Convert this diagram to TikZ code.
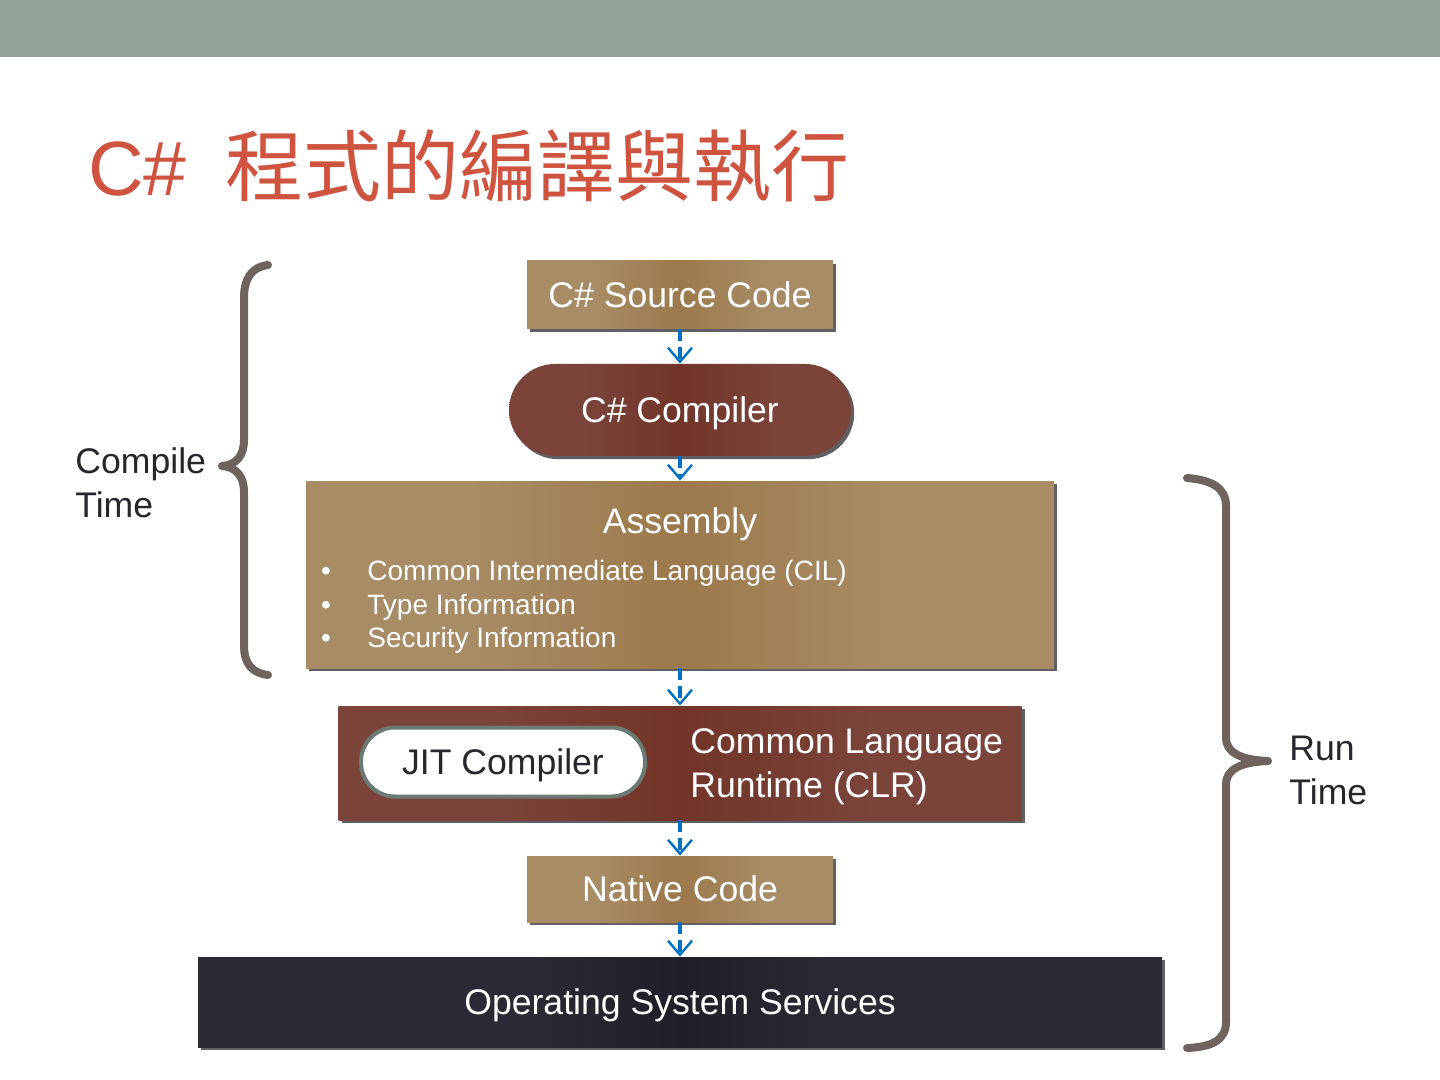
\documentclass[tikz,border=0pt]{standalone}
\usepackage{fontspec}
\setmainfont{Liberation Sans}
\newfontfamily\cjk{Noto Sans CJK TC}
\usetikzlibrary{arrows.meta,shadows}
\definecolor{barcol}{RGB}{147,162,153}
\definecolor{titlecol}{RGB}{207,84,63}
\definecolor{tanA}{RGB}{168,140,101}
\definecolor{tanB}{RGB}{156,121,76}
\definecolor{brnA}{RGB}{122,68,58}
\definecolor{brnB}{RGB}{114,52,40}
\definecolor{osA}{RGB}{41,42,53}
\definecolor{osB}{RGB}{31,31,41}
\definecolor{bracecol}{RGB}{112,99,93}
\definecolor{arrowblue}{RGB}{0,112,192}
\definecolor{labelcol}{RGB}{38,38,45}
\definecolor{jitborder}{RGB}{108,122,116}
\definecolor{shadowcol}{RGB}{95,95,100}
\pgfdeclarehorizontalshading{tanband}{100bp}{color(0bp)=(tanA); color(36bp)=(tanA); color(50bp)=(tanB); color(64bp)=(tanA); color(100bp)=(tanA)}
\pgfdeclarehorizontalshading{brnband}{100bp}{color(0bp)=(brnA); color(36bp)=(brnA); color(50bp)=(brnB); color(64bp)=(brnA); color(100bp)=(brnA)}
\pgfdeclarehorizontalshading{osband}{100bp}{color(0bp)=(osA); color(42bp)=(osA); color(50bp)=(osB); color(58bp)=(osA); color(100bp)=(osA)}
\begin{document}
\begin{tikzpicture}[x=0.5pt,y=-0.5pt,
  bigfont/.style={font=\fontsize{17.8}{22}\selectfont},
  smallfont/.style={font=\fontsize{14}{17}\selectfont},
  captext/.style={text height=12.75pt, text depth=0pt},
  boxbase/.style={inner sep=0pt, draw=none, bigfont, text=white, captext,
    drop shadow={shadow xshift=1.6pt, shadow yshift=-1.6pt, fill=shadowcol, opacity=1}},
  tanbox/.style={boxbase, shading=tanband},
  brnbox/.style={boxbase, shading=brnband},
  osbox/.style={boxbase, shading=osband},
  jitbox/.style={inner sep=0pt, rounded corners=17pt, fill=white, draw=jitborder,
    line width=2pt, bigfont, text=labelcol, captext},
  wtext/.style={inner sep=0pt, text=white},
  sidelabel/.style={inner sep=0pt, bigfont, text=labelcol, align=left, anchor=west},
  flow/.style={draw=arrowblue, line width=1.7pt, dash pattern=on 6pt off 3pt,
    -{Straight Barb[length=7pt,width=12pt,line width=1.2pt]}},
  brace/.style={draw=bracecol, line width=4pt, line cap=round, line join=round}
]
\useasboundingbox (0,0) rectangle (1440,1080);
\fill[white] (0,0) rectangle (1440,1080);
\fill[barcol] (0,0) rectangle (1440,57);

% title
\node[inner sep=0pt, anchor=base west, text=titlecol, font=\fontsize{38.5}{44}\selectfont] (tc) at (88,196) {C\#};
\node[inner sep=0pt, anchor=base west, text=titlecol, font=\cjk\fontsize{39}{44}\selectfont] (tz) at (225,196) {程式的編譯與執行};

% boxes
\node[tanbox, minimum width=153pt, minimum height=34pt] (src) at (680,295) {C\# Source Code};
\node[brnbox, rounded corners=23pt, minimum width=171pt, minimum height=46pt] (comp) at (680,410) {C\# Compiler};
\node[tanbox, minimum width=374pt, minimum height=93.5pt] (asm) at (680,574.5) {};
\node[wtext, bigfont, anchor=base] (asmt) at (680,533) {Assembly};
\node[wtext, smallfont, anchor=base] (b1) at (326,580) {•};
\node[wtext, smallfont, anchor=base] (b2) at (326,614) {•};
\node[wtext, smallfont, anchor=base] (b3) at (326,647) {•};
\node[wtext, smallfont, anchor=base west] (l1) at (367,580) {Common Intermediate Language (CIL)};
\node[wtext, smallfont, anchor=base west] (l2) at (367,614) {Type Information};
\node[wtext, smallfont, anchor=base west] (l3) at (367,647) {Security Information};

\node[brnbox, minimum width=341.5pt, minimum height=57pt] (clr) at (680,763) {};
\node[jitbox, minimum width=142pt, minimum height=34.5pt] (jit) at (503,762) {JIT Compiler};
\node[wtext, bigfont, align=left, anchor=west] (clrt) at (690,767) {Common Language\\Runtime (CLR)};

\node[tanbox, minimum width=153pt, minimum height=33pt] (nat) at (680,889) {Native Code};
\node[osbox, minimum width=482pt, minimum height=45pt] (os) at (680,1002) {Operating System Services};

% arrows
\draw[flow] (src.south) -- (comp.north);
\draw[flow] (comp.south) -- (asm.north);
\draw[flow] (asm.south) -- (clr.north);
\draw[flow] (clr.south) -- (nat.north);
\draw[flow] (nat.south) -- (os.north);

% braces
\draw[brace] (268,265) .. controls (252,267) and (244,278) .. (244,298) -- (244,440)
  .. controls (244,456) and (236,465) .. (222,466)
  .. controls (236,467) and (244,476) .. (244,492) -- (244,645)
  .. controls (244,664) and (252,673) .. (268,675);
\draw[brace] (1187,478) .. controls (1212,480) and (1226,488) .. (1226,506) -- (1226,738)
  .. controls (1226,752) and (1240,760) .. (1268,761)
  .. controls (1240,762) and (1226,770) .. (1226,784) -- (1226,1022)
  .. controls (1226,1040) and (1212,1047) .. (1187,1048);

% side labels
\node[sidelabel] (ct) at (75,483) {Compile\\Time};
\node[sidelabel] (rt) at (1289,770) {Run\\Time};
\end{tikzpicture}
\end{document}
